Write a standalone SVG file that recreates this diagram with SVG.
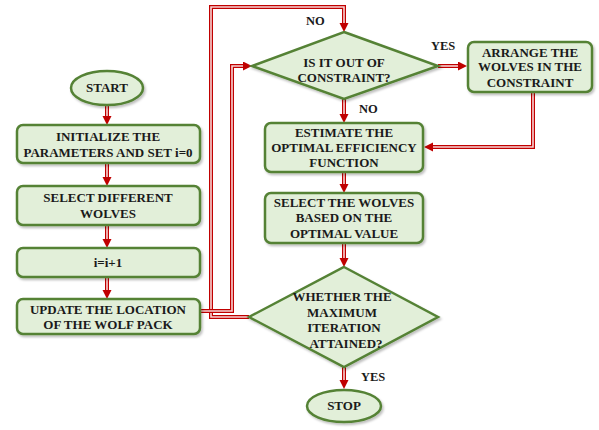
<svg xmlns="http://www.w3.org/2000/svg" width="599" height="430" viewBox="0 0 599 430">
  <defs>
    <style>
      .node { fill: #e2efd9; stroke: #548235; stroke-width: 2.5; filter: url(#shadow); }
      .txt { font-family: "Liberation Serif", "Times New Roman", serif; font-weight: bold; font-size: 13px; fill: #1a1a1a; text-anchor: middle; }
      .lbl { font-family: "Liberation Serif", "Times New Roman", serif; font-weight: bold; font-size: 12.5px; fill: #1a1a1a; }
      .wire-out { fill: none; stroke: #c00000; stroke-width: 4; stroke-linejoin: miter; }
      .wire-in { fill: none; stroke: #f8d4d4; stroke-width: 1.6; stroke-linejoin: miter; }
    </style>
    <filter id="shadow" x="-10%" y="-10%" width="125%" height="135%">
      <feDropShadow dx="1.5" dy="2" stdDeviation="1.2" flood-color="#000" flood-opacity="0.25"/>
    </filter>
    <marker id="arrow" markerUnits="userSpaceOnUse" markerWidth="10" markerHeight="10" refX="0" refY="4.5" orient="auto">
      <path d="M0,0 L9,4.5 L0,9 z" fill="#c00000"/>
    </marker>
    <!-- connector routes, each drawn as a double line -->
    <path id="c1" d="M107,106 V116"/>
    <path id="c2" d="M107,163 V177"/>
    <path id="c3" d="M107,225 V239"/>
    <path id="c4" d="M107,277 V290"/>
    <path id="c5" d="M200,311 H232 V66 H243"/>
    <path id="c6" d="M249,317 H211 V7 H344 V23"/>
    <path id="c7" d="M438,66 H458"/>
    <path id="c8" d="M344,99 V114"/>
    <path id="c9" d="M533,92 V147 H433"/>
    <path id="c10" d="M344,172 V184"/>
    <path id="c11" d="M344,243 V258"/>
    <path id="c12" d="M344,367 V380"/>
  </defs>

  <rect width="599" height="430" fill="#ffffff"/>

  <g id="connectors">
    <use href="#c1" class="wire-out" marker-end="url(#arrow)"/><use href="#c1" class="wire-in"/>
    <use href="#c2" class="wire-out" marker-end="url(#arrow)"/><use href="#c2" class="wire-in"/>
    <use href="#c3" class="wire-out" marker-end="url(#arrow)"/><use href="#c3" class="wire-in"/>
    <use href="#c4" class="wire-out" marker-end="url(#arrow)"/><use href="#c4" class="wire-in"/>
    <use href="#c6" class="wire-out" marker-end="url(#arrow)"/><use href="#c6" class="wire-in"/>
    <use href="#c5" class="wire-out" marker-end="url(#arrow)"/><use href="#c5" class="wire-in"/>
    <use href="#c7" class="wire-out" marker-end="url(#arrow)"/><use href="#c7" class="wire-in"/>
    <use href="#c8" class="wire-out" marker-end="url(#arrow)"/><use href="#c8" class="wire-in"/>
    <use href="#c9" class="wire-out" marker-end="url(#arrow)"/><use href="#c9" class="wire-in"/>
    <use href="#c10" class="wire-out" marker-end="url(#arrow)"/><use href="#c10" class="wire-in"/>
    <use href="#c11" class="wire-out" marker-end="url(#arrow)"/><use href="#c11" class="wire-in"/>
    <use href="#c12" class="wire-out" marker-end="url(#arrow)"/><use href="#c12" class="wire-in"/>
    <text class="lbl" x="306" y="25">NO</text>
    <text class="lbl" x="431" y="50">YES</text>
    <text class="lbl" x="359" y="113">NO</text>
    <text class="lbl" x="361" y="381">YES</text>
  </g>

  <g id="start">
    <ellipse class="node" cx="107" cy="88" rx="36" ry="17"/>
    <text class="txt" x="107" y="92">START</text>
  </g>

  <g id="init">
    <rect class="node" x="17" y="125" width="183" height="38" rx="6"/>
    <text class="txt" x="108" y="141">INITIALIZE  THE</text>
    <text class="txt" x="108" y="157">PARAMETERS AND SET i=0</text>
  </g>

  <g id="select">
    <rect class="node" x="17" y="186" width="183" height="39" rx="6"/>
    <text class="txt" x="108" y="202">SELECT DIFFERENT</text>
    <text class="txt" x="108" y="218">WOLVES</text>
  </g>

  <g id="increment">
    <rect class="node" x="17" y="248" width="183" height="29" rx="6"/>
    <text class="txt" x="108" y="267">i=i+1</text>
  </g>

  <g id="update">
    <rect class="node" x="17" y="299" width="183" height="35" rx="6"/>
    <text class="txt" x="108" y="314">UPDATE THE LOCATION</text>
    <text class="txt" x="108" y="329">OF THE WOLF PACK</text>
  </g>

  <g id="check-constraint">
    <polygon class="node" points="344,32 438,66 344,99 252,66"/>
    <text class="txt" x="344" y="67">IS IT OUT OF</text>
    <text class="txt" x="344" y="82">CONSTRAINT?</text>
  </g>

  <g id="arrange">
    <rect class="node" x="468" y="42" width="124" height="50" rx="6"/>
    <text class="txt" x="530" y="57">ARRANGE THE</text>
    <text class="txt" x="530" y="71">WOLVES IN THE</text>
    <text class="txt" x="530" y="87">CONSTRAINT</text>
  </g>

  <g id="estimate">
    <rect class="node" x="265" y="123" width="158" height="49" rx="6"/>
    <text class="txt" x="344" y="137">ESTIMATE THE</text>
    <text class="txt" x="344" y="152">OPTIMAL EFFICIENCY</text>
    <text class="txt" x="344" y="167">FUNCTION</text>
  </g>

  <g id="select-best">
    <rect class="node" x="265" y="193" width="158" height="50" rx="6"/>
    <text class="txt" x="344" y="207">SELECT THE WOLVES</text>
    <text class="txt" x="344" y="222">BASED ON THE</text>
    <text class="txt" x="344" y="238">OPTIMAL VALUE</text>
  </g>

  <g id="check-iteration">
    <polygon class="node" points="344,267 438,317 344,367 249,317"/>
    <text class="txt" x="342" y="301">WHETHER THE</text>
    <text class="txt" x="342" y="317">MAXIMUM</text>
    <text class="txt" x="344" y="332">ITERATION</text>
    <text class="txt" x="346" y="348">ATTAINED?</text>
  </g>

  <g id="stop">
    <ellipse class="node" cx="344" cy="406" rx="37" ry="16"/>
    <text class="txt" x="344" y="410">STOP</text>
  </g>
</svg>
